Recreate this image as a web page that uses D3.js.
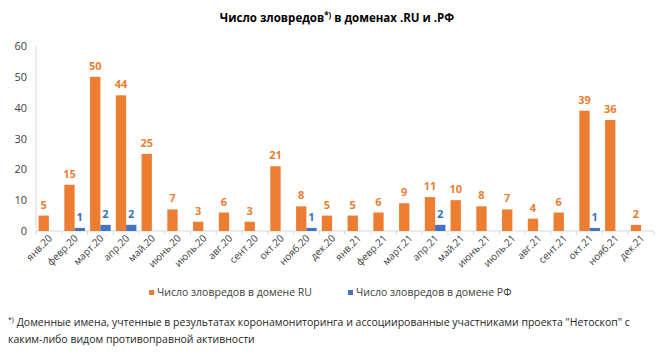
<!DOCTYPE html>
<html><head><meta charset="utf-8">
<script src="https://cdn.jsdelivr.net/npm/d3@7"></script>
<style>body{margin:0;background:#fff;} svg{display:block;font-family:"Open Sans","Liberation Sans",sans-serif;}</style>
</head><body>
<svg id="c" width="670" height="355"></svg>
<script>
const categories = ["янв.20","февр.20","март.20","апр.20","май.20","июнь.20","июль.20","авг.20","сент.20","окт.20","нояб.20","дек.20",
  "янв.21","февр.21","март.21","апр.21","май.21","июнь.21","июль.21","авг.21","сент.21","окт.21","нояб.21","дек.21"];
const seriesRU = [5,15,50,44,25,7,3,6,3,21,8,5,5,6,9,11,10,8,7,4,6,39,36,2];
const seriesRF = [0,1,2,2,0,0,0,0,0,0,1,0,0,0,0,2,0,0,0,0,0,1,0,0];
const yTicks = [0,10,20,30,40,50,60];
const seriesNames = ["Число зловредов в домене RU","Число зловредов в домене РФ"];

const svg = d3.select("#c");
const ORANGE = "#ED7D31", BLUE = "#4472C4", LBLUE = "#2E75B6";
const x0 = d3.scaleBand().domain(categories).range([36, 654]).paddingInner(0.2).paddingOuter(0.1);
const band = d3.scaleBand().domain(categories).range([36, 654]);
const x1 = d3.scaleBand().domain(["RU","RF"]).range([0, x0.bandwidth()]);
const y = d3.scaleLinear().domain([0,60]).range([231, 46]);

// title
const t = svg.append("text").attr("x", 337).attr("y", 22).attr("text-anchor","middle")
  .attr("font-size", 11.5).attr("font-weight","bold").attr("fill","#000");
t.append("tspan").text("Число зловредов");
t.append("tspan").attr("dy",-4).attr("font-size",8).text("*)");
t.append("tspan").attr("dy",4).text(" в доменах .RU и .РФ");

// y axis
svg.append("line").attr("x1",36).attr("x2",36).attr("y1",y(60)).attr("y2",y(0)).attr("stroke","#D9D9D9");
svg.selectAll(".yt").data(yTicks).join("text").attr("x",27).attr("y",d=>y(d)+4)
  .attr("text-anchor","end").attr("font-size",11).attr("fill","#404040").text(d=>d);

// x axis
svg.append("line").attr("x1",36).attr("x2",654).attr("y1",y(0)).attr("y2",y(0)).attr("stroke","#D9D9D9");
svg.selectAll(".xt").data(categories.concat([null])).join("line")
  .attr("x1",(d,i)=>36+i*band.step()).attr("x2",(d,i)=>36+i*band.step())
  .attr("y1",y(0)).attr("y2",y(0)+4).attr("stroke","#D9D9D9");

const g = svg.selectAll(".cat").data(categories).join("g")
  .attr("transform", d=>`translate(${x0(d)},0)`);
g.append("rect").attr("x",x1("RU")).attr("width",x1.bandwidth())
  .attr("y",(d,i)=>y(seriesRU[i])).attr("height",(d,i)=>y(0)-y(seriesRU[i])).attr("fill",ORANGE);
g.append("rect").attr("x",x1("RF")).attr("width",x1.bandwidth())
  .attr("y",(d,i)=>y(seriesRF[i])).attr("height",(d,i)=>y(0)-y(seriesRF[i])).attr("fill",BLUE);
g.append("text").attr("x",x1("RU")+x1.bandwidth()/2).attr("y",(d,i)=>y(seriesRU[i])-7)
  .attr("text-anchor","middle").attr("font-size",11).attr("font-weight","bold").attr("fill",ORANGE)
  .text((d,i)=>seriesRU[i]);
g.append("text").attr("x",x1("RF")+x1.bandwidth()/2).attr("y",(d,i)=>y(seriesRF[i])-7)
  .attr("text-anchor","middle").attr("font-size",11).attr("font-weight","bold").attr("fill",LBLUE)
  .text((d,i)=>seriesRF[i] ? seriesRF[i] : "");

// x labels
svg.selectAll(".xl").data(categories).join("text")
  .attr("transform", d=>`translate(${band(d)+band.bandwidth()/2+4},239) rotate(-45)`)
  .attr("text-anchor","end").attr("font-size",10).attr("fill","#404040").text(d=>d);

// legend
const leg = [{n:seriesNames[0],c:ORANGE,x:149},{n:seriesNames[1],c:BLUE,x:348}];
leg.forEach(l=>{
  svg.append("rect").attr("x",l.x).attr("y",290).attr("width",5).attr("height",5).attr("fill",l.c);
  svg.append("text").attr("x",l.x+8).attr("y",296).attr("font-size",10.5).attr("fill","#404040").text(l.n);
});

// footnote
const f = svg.append("text").attr("x",8).attr("y",326).attr("font-size",10.5).attr("fill","#262626");
f.append("tspan").attr("dy",-4).attr("font-size",7).text("*)");
f.append("tspan").attr("dy",4).text(" Доменные имена, учтенные в результатах коронамониторинга и ассоциированные участниками проекта \"Нетоскоп\" с");
svg.append("text").attr("x",8).attr("y",343).attr("font-size",10.5).attr("fill","#262626")
  .text("каким-либо видом противоправной активности");
</script>
</body></html>
